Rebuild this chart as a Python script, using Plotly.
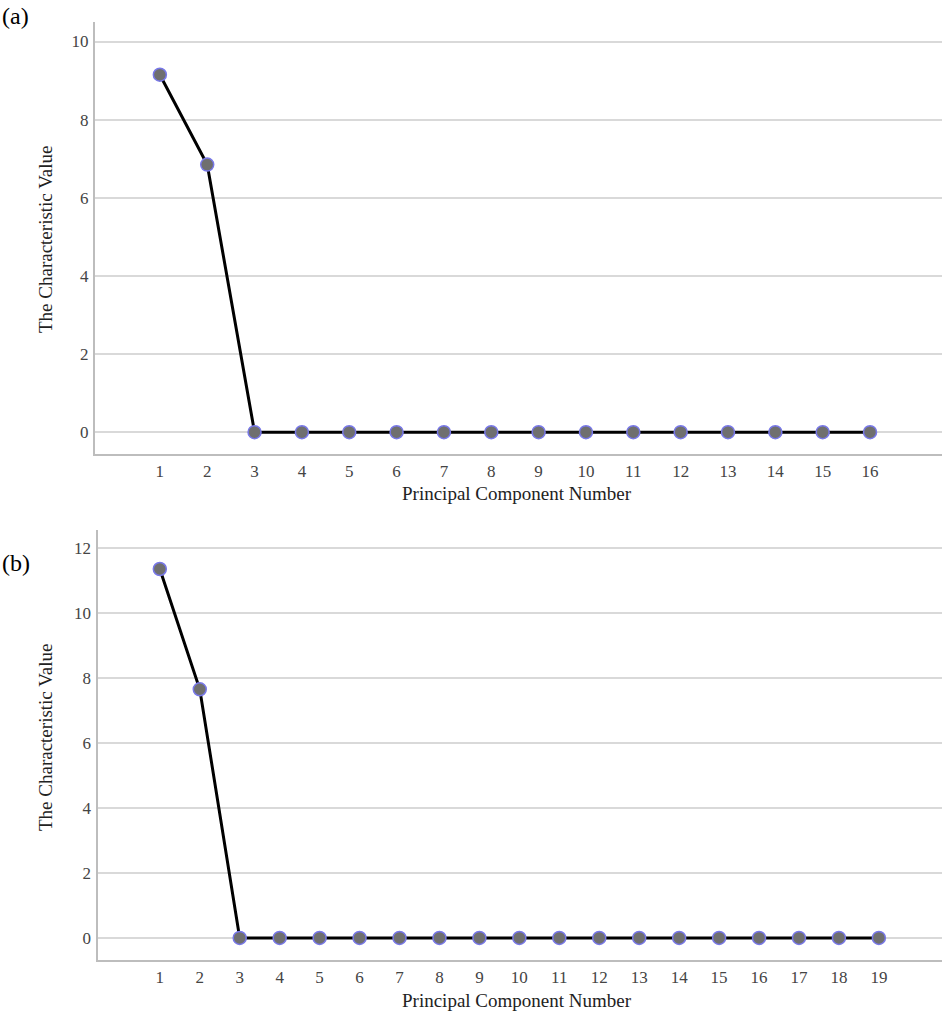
import plotly.graph_objects as go

# Data
components_a = list(range(1, 17))
eigen_a = [9.15, 6.85, 0, 0, 0, 0, 0, 0, 0, 0, 0, 0, 0, 0, 0, 0]
components_b = list(range(1, 20))
eigen_b = [11.35, 7.65, 0, 0, 0, 0, 0, 0, 0, 0, 0, 0, 0, 0, 0, 0, 0, 0, 0]
yticks_a = [0, 2, 4, 6, 8, 10]
yticks_b = [0, 2, 4, 6, 8, 10, 12]
panel_labels = ["(a)", "(b)"]
x_title = "Principal Component Number"
y_title = "The Characteristic Value"

W, H = 942, 1016
FONT = "Liberation Serif, Times New Roman, serif"

line_style = dict(color="black", width=3)
marker_style = dict(size=13, color="#6f6f6f", line=dict(color="#7878e8", width=1.5))

fig = go.Figure()
fig.add_trace(go.Scatter(x=components_a, y=eigen_a, mode="lines+markers",
                         line=line_style, marker=marker_style,
                         xaxis="x", yaxis="y", showlegend=False))
fig.add_trace(go.Scatter(x=components_b, y=eigen_b, mode="lines+markers",
                         line=line_style, marker=marker_style,
                         xaxis="x2", yaxis="y2", showlegend=False))

def px_x(p):
    return p / W

def px_y(p):
    return 1 - p / H

xcommon = dict(showgrid=False, zeroline=False, showline=True, linecolor="#bdbdbd",
               linewidth=2, ticks="outside", ticklen=1, tickcolor="rgba(0,0,0,0)",
               tickfont=dict(family=FONT, size=17, color="#444"), automargin=False)
ycommon = dict(showgrid=True, gridcolor="#d9d9d9", gridwidth=1.5, zeroline=False,
               showline=True, linecolor="#bdbdbd", linewidth=2, ticks="outside",
               ticklen=1, tickcolor="rgba(0,0,0,0)",
               tickfont=dict(family=FONT, size=17, color="#444"), automargin=False)

fig.update_layout(
    width=W, height=H,
    margin=dict(l=0, r=0, t=0, b=0),
    paper_bgcolor="white", plot_bgcolor="white",
    hovermode=False,
    xaxis=dict(domain=[px_x(95), 1], range=[-0.37, 17.52], tickvals=components_a,
               anchor="y", **xcommon),
    yaxis=dict(domain=[px_y(454), px_y(22)], range=[-0.56, 10.5], tickvals=yticks_a,
               anchor="x", **ycommon),
    xaxis2=dict(domain=[px_x(97.5), 1], range=[-0.56, 20.58], tickvals=components_b,
                anchor="y2", **xcommon),
    yaxis2=dict(domain=[px_y(960), px_y(530)], range=[-0.68, 12.55], tickvals=yticks_b,
                anchor="x2", **ycommon),
)

ann = []
ann.append(dict(text=panel_labels[0], x=0, y=px_y(16), xref="paper", yref="paper",
                xanchor="left", yanchor="middle", showarrow=False,
                font=dict(family=FONT, size=24, color="black")))
ann.append(dict(text=panel_labels[1], x=0, y=px_y(563), xref="paper", yref="paper",
                xanchor="left", yanchor="middle", showarrow=False,
                font=dict(family=FONT, size=24, color="black")))
for xc, yc in [(517, 493), (517, 1000)]:
    ann.append(dict(text=x_title, x=px_x(xc), y=px_y(yc), xref="paper", yref="paper",
                    xanchor="center", yanchor="middle", showarrow=False,
                    font=dict(family=FONT, size=19, color="#222")))
for xc, yc in [(45, 240), (45, 738)]:
    ann.append(dict(text=y_title, x=px_x(xc), y=px_y(yc), xref="paper", yref="paper",
                    xanchor="center", yanchor="middle", showarrow=False, textangle=-90,
                    font=dict(family=FONT, size=19, color="#222")))
fig.update_layout(annotations=ann)

fig.write_html("out.html",
               config={"displayModeBar": False},
               post_script="document.body.style.margin='0px';document.body.style.overflow='hidden';")
